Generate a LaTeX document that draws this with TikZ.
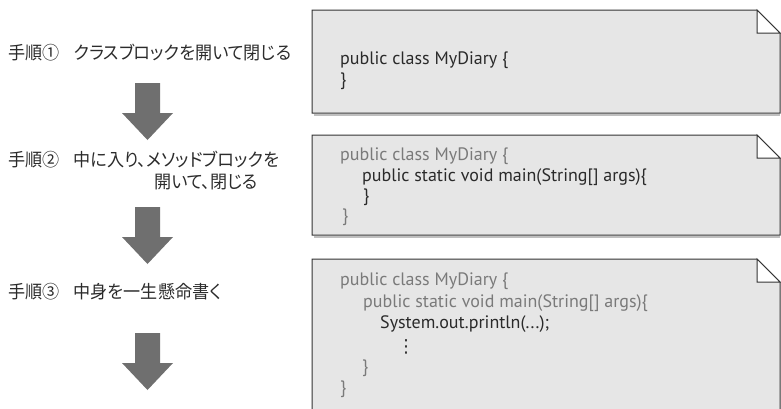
\documentclass[tikz,border=0pt]{standalone}
\usepackage{fontspec}
\setmainfont{PT Sans}
\newfontfamily\jp[RawFeature={+palt}, FakeStretch=0.95]{Noto Sans CJK JP}
\newfontfamily\symfont{DejaVu Sans}
\definecolor{boxgray}{HTML}{E6E6E6}
\definecolor{oldtext}{HTML}{7A7A7A}
\definecolor{newtext}{HTML}{2A2A2A}
\definecolor{arrowgray}{HTML}{6F6F6F}
\definecolor{labeltext}{HTML}{2B2B2B}
\tikzset{
  memo/.style={fill=boxgray, draw=black!80, line width=1pt},
  fold/.style={fill=white, draw=black!80, line width=1pt},
  shadowline/.style={draw=black!25, line width=2pt},
  bigarrow/.style={fill=arrowgray, draw=none},
  codeline/.style={anchor=base west, inner sep=0pt, font=\fontsize{18}{20}\selectfont},
  oldline/.style={codeline, text=oldtext},
  newline/.style={codeline, text=newtext},
  steplabel/.style={anchor=base west, inner sep=0pt, text=labeltext, font=\jp\fontsize{18}{20}\selectfont},
}
\begin{document}
\begin{tikzpicture}[x=1pt, y=-1pt]
\useasboundingbox (0,0) rectangle (781,408);
\clip (0,0) rectangle (781,408);
% memo boxes
\draw[shadowline] (314,115) -- (780,115);
\draw[memo] (312,10) -- (757,10) -- (780,33) -- (780,113) -- (312,113) -- cycle;
\draw[fold] (757,10) -- (757,33) -- (780,33) -- cycle;
\draw[shadowline] (314,237) -- (780,237);
\draw[memo] (312,135) -- (757,135) -- (780,158) -- (780,235) -- (312,235) -- cycle;
\draw[fold] (757,135) -- (757,158) -- (780,158) -- cycle;
\draw[memo] (312,259) -- (757,259) -- (780,282) -- (780,420) -- (312,420) -- cycle;
\draw[fold] (757,259) -- (757,282) -- (780,282) -- cycle;
% arrows
\foreach \y in {83,207,333}{
  \fill[bigarrow] (135,\y) -- (160,\y) -- (160,\y+30) -- (173,\y+30) -- (147.5,\y+57) -- (122,\y+30) -- (135,\y+30) -- cycle;
}
% step labels
\node[steplabel] (s1) at (8,59) {手順①\hspace{0.8em}クラスブロックを開いて閉じる};
\node[steplabel] (s2a) at (8,166) {手順②\hspace{0.8em}中に入り、メソッドブロックを};
\node[steplabel, anchor=base east] (s2b) at (258,188) {開いて、閉じる};
\node[steplabel] (s3) at (8,298) {手順③\hspace{0.8em}中身を一生懸命書く};
% box 1
\node[newline] (b1l1) at (340,64) {public class MyDiary \{};
\node[newline] (b1l2) at (340,85) {\}};
% box 2
\node[oldline] (b2l1) at (340,160) {public class MyDiary \{};
\node[newline] (b2l2) at (362,181) {public static void main(String[] args)\{};
\node[newline] (b2l3) at (363,201) {\}};
\node[oldline] (b2l4) at (342,221) {\}};
% box 3
\node[oldline] (b3l1) at (340,285) {public class MyDiary \{};
\node[oldline] (b3l2) at (363,307) {public static void main(String[] args)\{};
\node[newline] (b3l3) at (380,328) {System.out.println(...);};
\node[newline, anchor=center, font=\symfont\fontsize{18}{20}\selectfont] (b3l4) at (406,347) {⋮};
\node[oldline] (b3l5) at (362,372) {\}};
\node[oldline] (b3l6) at (340,393) {\}};
\end{tikzpicture}
\end{document}
